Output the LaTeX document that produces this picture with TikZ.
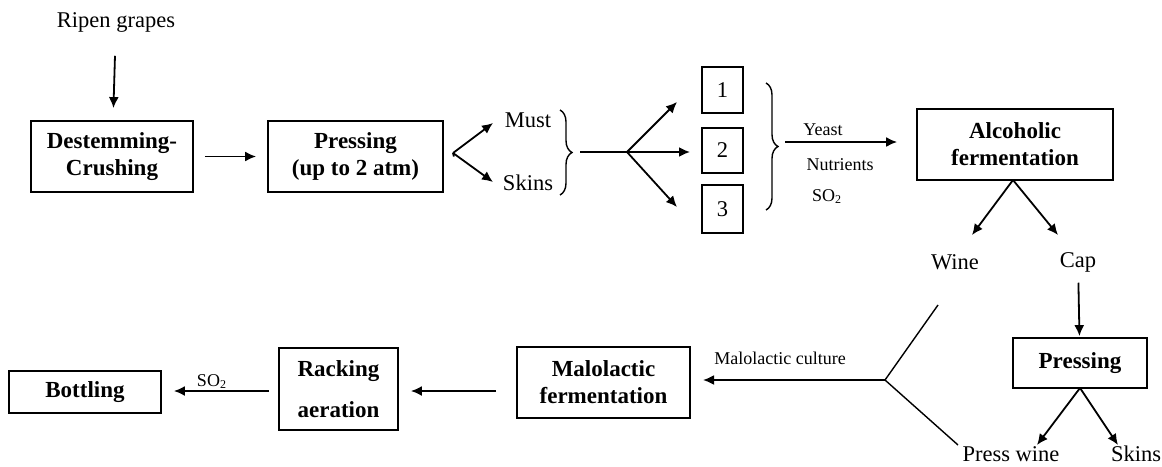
\documentclass[tikz,border=0pt]{standalone}
\usepackage{fontspec}
\setmainfont{Liberation Serif}
\usetikzlibrary{arrows.meta,decorations.pathreplacing}
\begin{document}
\begin{tikzpicture}[x=0.5pt,y=-0.5pt,
  line width=0.9pt,
  arr/.style={-{Latex[length=5.5pt,width=5pt]}},
  stage/.style={draw,line width=0.9pt,inner sep=0pt,align=center,font=\fontsize{11.5}{13.5}\selectfont\bfseries},
  numbox/.style={draw,line width=0.9pt,inner sep=0pt,minimum width=20.5pt,font=\fontsize{11.25}{13}\selectfont},
  lbl/.style={inner sep=0pt,font=\fontsize{11.25}{13}\selectfont},
  small/.style={inner sep=0pt,font=\fontsize{9}{11}\selectfont},
  brc/.style={decorate,decoration={brace,amplitude=6pt},line width=0.7pt}]
\useasboundingbox (0,0) rectangle (1162,466);

% top row
\node[lbl] (ripen) at (116,22) {Ripen grapes};
\node[stage,minimum width=81pt,minimum height=35.5pt] (destem) at (112,156.5) {Destemming-\\Crushing};
\node[stage,minimum width=87.5pt,minimum height=35.5pt] (press1) at (355.5,156.5) {Pressing\\(up to 2 atm)};
\node[lbl] (must) at (528,120) {Must};
\node[lbl] (skins1) at (528,183) {Skins};
\node[numbox,minimum height=23pt] (n1) at (722.5,90) {1};
\node[numbox,minimum height=22.5pt] (n2) at (722.5,150.5) {2};
\node[numbox,minimum height=24pt] (n3) at (722.5,209) {3};
\node[small] (yeast) at (823,130) {Yeast};
\node[small] (nutr) at (840,165) {Nutrients};
\node[small] (so2a) at (827,197) {SO\textsubscript{2}};
\node[stage,minimum width=98pt,minimum height=35.5pt] (alc) at (1015,144.5) {Alcoholic\\fermentation};
\node[lbl] (wine) at (955,262) {Wine};
\node[lbl] (cap) at (1078,262) {Cap};
\node[stage,minimum width=67pt,minimum height=25pt] (press2) at (1080,363) {Pressing};
\node[lbl] (pwine) at (1011,454) {Press wine};
\node[lbl] (skins2) at (1136,454) {Skins};

% bottom row
\node[stage,minimum width=86.5pt,minimum height=35.5pt] (malo) at (603.5,382.5) {Malolactic\\fermentation};
\node[stage,minimum width=59.5pt,minimum height=41pt,font=\fontsize{11.5}{20.5}\selectfont\bfseries] (rack) at (338.5,389) {Racking\\aeration};
\node[stage,minimum width=76pt,minimum height=21pt] (bottl) at (85,392) {Bottling};
\node[small] (malocult) at (780,358) {Malolactic culture};
\node[small] (so2b) at (212,382) {SO\textsubscript{2}};

% coordinates
\coordinate (s0) at (453,153);
\coordinate (tMust) at (493,123);
\coordinate (tSkins) at (493,182);
\coordinate (b1tip) at (580,152);
\coordinate (s1) at (627,152);
\coordinate (t1) at (677,102);
\coordinate (t2) at (690,152);
\coordinate (t3) at (677,207);
\coordinate (b2tip) at (785,142);
\coordinate (sa) at (1013,180);
\coordinate (tWine) at (972,235);
\coordinate (tCap) at (1058,235);
\coordinate (sp) at (1080,388);
\coordinate (tPw) at (1037,445);
\coordinate (tSk) at (1118,445);
\coordinate (yTop) at (938,305);
\coordinate (yMid) at (885,380);
\coordinate (yBot) at (958,445);
\coordinate (tMalo) at (703,380);

% connectors
\draw[arr,shorten <=11.5pt,shorten >=6pt] (ripen) -- (destem);
\draw[arr,shorten <=5.5pt,shorten >=5.5pt] (destem) -- (press1);
\draw (press1.east) ++(5pt,0) coordinate (p1e) -- (s0);
\draw[arr] (s0) -- (tMust);
\draw[arr] (s0) -- (tSkins);
\draw[brc] (560,110) -- (560,195);
\draw (b1tip) -- (s1);
\draw[arr] (s1) -- (t1);
\draw[arr] (s1) -- (t2);
\draw[arr] (s1) -- (t3);
\draw[brc] (766,83) -- (766,210);
\draw[arr,shorten >=9.5pt] (b2tip) -- (alc.west |- b2tip);
\draw[arr] (sa) -- (tWine);
\draw[arr] (sa) -- (tCap);
\draw[arr,shorten <=5pt,shorten >=0.5pt] (cap) -- (press2);
\draw[arr] (sp) -- (tPw);
\draw[arr] (sp) -- (tSk);
\draw[line width=0.7pt] (yTop) -- (yMid) -- (yBot);
\draw[arr] (yMid) -- (tMalo);
\draw[arr,shorten <=10pt,shorten >=6pt] (malo.west |- 0,391) -- (rack.east |- 0,391);
\draw[arr,shorten <=4.5pt,shorten >=6pt] (rack.west |- 0,391) -- (bottl.east |- 0,391);
\end{tikzpicture}
\end{document}
